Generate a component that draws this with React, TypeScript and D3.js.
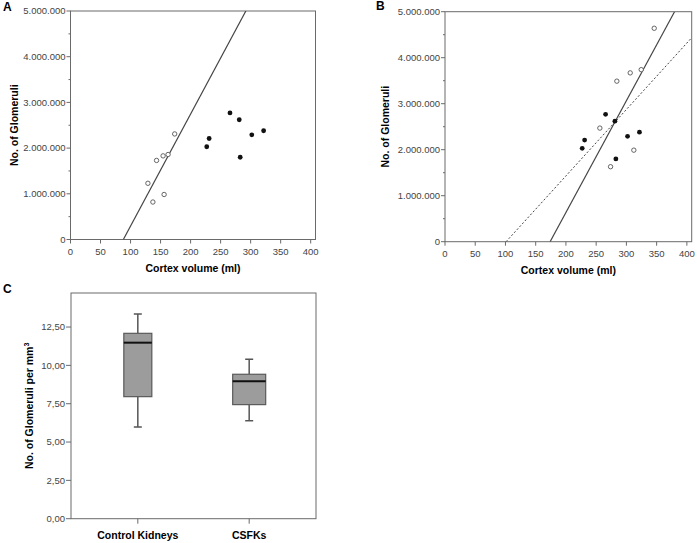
import React from "react";
import * as d3 from "d3";

// ---------- Data ----------
// Panel A: cortex volume (ml) vs number of glomeruli
const controlVolumeA = [128.9, 137.2, 143.3, 154.2, 155.9, 162.5, 173.5];
const controlGlomA = [1230000, 820000, 1730000, 1830000, 985000, 1860000, 2310000];
const csfkVolume = [226.9, 230.9, 265.6, 281.0, 282.6, 301.9, 321.6];
const csfkGlom = [2030000, 2210000, 2770000, 2620000, 1800000, 2290000, 2380000];
// Panel B: corrected control values
const controlVolumeB = [256.1, 273.8, 284.2, 306.3, 312.3, 324.5, 346.0];
const controlGlomB = [2470000, 1630000, 3490000, 3670000, 1990000, 3740000, 4640000];
// Fit lines [slope, intercept]
const fitA = [24510, -2156900];
const fitBSolid = [24295, -4222500];
const fitBDotted = [14444, -1458800];
// Panel C: box plot of glomeruli per mm3
const boxCategories = ["Control Kidneys", "CSFKs"];
const boxMin = [5.98, 6.39];
const boxQ1 = [7.96, 7.44];
const boxMedian = [11.48, 8.96];
const boxQ3 = [12.09, 9.42];
const boxMax = [13.35, 10.4];

const xTicks = [0, 50, 100, 150, 200, 250, 300, 350, 400];
const yTicksScatter = [0, 1000000, 2000000, 3000000, 4000000, 5000000];
const yMinorScatter = [500000, 1500000, 2500000, 3500000, 4500000];
const yTicksBox = [0, 2.5, 5, 7.5, 10, 12.5];

const locale = d3.formatLocale({ decimal: ",", thousands: ".", grouping: [3], currency: ["", ""] });
const fmtInt = locale.format(",d");
const fmtDec = locale.format(",.2f");

const FONT = "Liberation Sans, Arial, sans-serif";
const AXIS = "#6a6a6a";
const TICKTXT = "#444";

type ScatterProps = {
  left: number; top: number; right: number; bottom: number;
  letter: string; letterX: number; letterY: number; titleX: number;
  openX: number[]; openY: number[]; lines: { fit: number[]; dashed: boolean }[];
};

function Scatter(p: ScatterProps) {
  const x = d3.scaleLinear().domain([0, 408]).range([p.left, p.right]);
  const y = d3.scaleLinear().domain([0, 5000000]).range([p.bottom, p.top]);
  const clipId = "clip" + p.letter;
  return (
    <g>
      <defs>
        <clipPath id={clipId}>
          <rect x={p.left} y={p.top} width={p.right - p.left} height={p.bottom - p.top} />
        </clipPath>
      </defs>
      <text x={p.letterX} y={p.letterY} fontFamily={FONT} fontWeight="bold" fontSize={12}>{p.letter}</text>
      {/* frame */}
      <rect x={p.left} y={p.top} width={p.right - p.left} height={p.bottom - p.top} fill="none" stroke={AXIS} strokeWidth={1} />
      {/* y ticks */}
      {yTicksScatter.map((t) => (
        <g key={"y" + t}>
          <line x1={p.left - 4} x2={p.left} y1={y(t)} y2={y(t)} stroke={AXIS} />
          <text x={p.left - 5} y={y(t)} dy="0.35em" textAnchor="end" fontFamily={FONT} fontSize={9.5} fill={TICKTXT}>{fmtInt(t)}</text>
        </g>
      ))}
      {yMinorScatter.map((t) => (
        <line key={"ym" + t} x1={p.left - 2} x2={p.left} y1={y(t)} y2={y(t)} stroke={AXIS} />
      ))}
      {/* x ticks */}
      {xTicks.map((t) => (
        <g key={"x" + t}>
          <line x1={x(t)} x2={x(t)} y1={p.bottom} y2={p.bottom + 4} stroke={AXIS} />
          <text x={x(t)} y={p.bottom + 12} dy="0.35em" textAnchor="middle" fontFamily={FONT} fontSize={9.5} fill={TICKTXT}>{t}</text>
        </g>
      ))}
      <text x={(p.left + p.right) / 2} y={p.bottom + 32} textAnchor="middle" fontFamily={FONT} fontWeight="bold" fontSize={10.5}>Cortex volume (ml)</text>
      <text transform={`translate(${p.titleX},${(p.top + p.bottom) / 2}) rotate(-90)`} textAnchor="middle" fontFamily={FONT} fontWeight="bold" fontSize={10.5}>No. of Glomeruli</text>
      {/* fit lines */}
      <g clipPath={`url(#${clipId})`}>
        {p.lines.map((l, i) => {
          const [m, b] = l.fit;
          const x0 = -b / m;
          const x1 = Math.min(408, (5000000 - b) / m);
          return (
            <line key={i} x1={x(x0)} y1={y(m * x0 + b)} x2={x(x1)} y2={y(m * x1 + b)}
              stroke="#444" strokeWidth={l.dashed ? 1 : 1.2} strokeDasharray={l.dashed ? "2,2" : undefined} />
          );
        })}
      </g>
      {/* points */}
      {p.openX.map((v, i) => (
        <circle key={"o" + i} cx={x(v)} cy={y(p.openY[i])} r={2.2} fill="white" stroke="#555" strokeWidth={0.9} />
      ))}
      {csfkVolume.map((v, i) => (
        <circle key={"f" + i} cx={x(v)} cy={y(csfkGlom[i])} r={2.4} fill="#111" />
      ))}
    </g>
  );
}

function BoxPanel() {
  const left = 71, right = 316, top = 293, bottom = 518.7;
  const y = d3.scaleLinear().domain([0, 14.72]).range([bottom, top]);
  const x = d3.scalePoint<string>().domain(boxCategories).range([left, right]).padding(0.6);
  const widths = [28, 33];
  return (
    <g>
      <text x={3} y={293} fontFamily={FONT} fontWeight="bold" fontSize={12}>C</text>
      <rect x={left} y={top} width={right - left} height={bottom - top} fill="none" stroke={AXIS} />
      {yTicksBox.map((t) => (
        <g key={t}>
          <line x1={left - 5} x2={left} y1={y(t)} y2={y(t)} stroke={AXIS} />
          <text x={left - 6} y={y(t)} dy="0.35em" textAnchor="end" fontFamily={FONT} fontSize={9.5} fill={TICKTXT}>{fmtDec(t)}</text>
        </g>
      ))}
      {boxCategories.map((c, i) => {
        const cx = x(c) as number;
        const w = widths[i];
        return (
          <g key={c}>
            <line x1={cx} x2={cx} y1={bottom} y2={bottom + 5} stroke={AXIS} />
            <text x={cx} y={bottom + 20} textAnchor="middle" fontFamily={FONT} fontWeight="bold" fontSize={10.5}>{c}</text>
            <line x1={cx} x2={cx} y1={y(boxMax[i])} y2={y(boxQ3[i])} stroke="#555" strokeWidth={1.5} />
            <line x1={cx} x2={cx} y1={y(boxQ1[i])} y2={y(boxMin[i])} stroke="#555" strokeWidth={1.5} />
            <line x1={cx - 4} x2={cx + 4} y1={y(boxMax[i])} y2={y(boxMax[i])} stroke="#555" strokeWidth={1.5} />
            <line x1={cx - 4} x2={cx + 4} y1={y(boxMin[i])} y2={y(boxMin[i])} stroke="#555" strokeWidth={1.5} />
            <rect x={cx - w / 2} y={y(boxQ3[i])} width={w} height={y(boxQ1[i]) - y(boxQ3[i])} fill="#9c9c9c" stroke="#5a5a5a" strokeWidth={1.2} />
            <line x1={cx - w / 2} x2={cx + w / 2} y1={y(boxMedian[i])} y2={y(boxMedian[i])} stroke="#111" strokeWidth={2} />
          </g>
        );
      })}
      <text transform={`translate(33,${(top + bottom) / 2}) rotate(-90)`} textAnchor="middle" fontFamily={FONT} fontWeight="bold" fontSize={10.5}>
        No. of Glomeruli per mm<tspan dy="-4" fontSize={7}>3</tspan>
      </text>
    </g>
  );
}

export default function App() {
  return (
    <svg width={697} height={543} style={{ position: "absolute", left: 0, top: 0, background: "white" }}>
      <rect width={697} height={543} fill="white" />
      <Scatter left={70.5} top={11} right={315.5} bottom={239.5} letter="A" letterX={3} letterY={11} titleX={18}
        openX={controlVolumeA} openY={controlGlomA} lines={[{ fit: fitA, dashed: false }]} />
      <Scatter left={445} top={11.7} right={691.7} bottom={241.7} letter="B" letterX={376} letterY={10} titleX={389}
        openX={controlVolumeB} openY={controlGlomB} lines={[{ fit: fitBSolid, dashed: false }, { fit: fitBDotted, dashed: true }]} />
      <BoxPanel />
    </svg>
  );
}
